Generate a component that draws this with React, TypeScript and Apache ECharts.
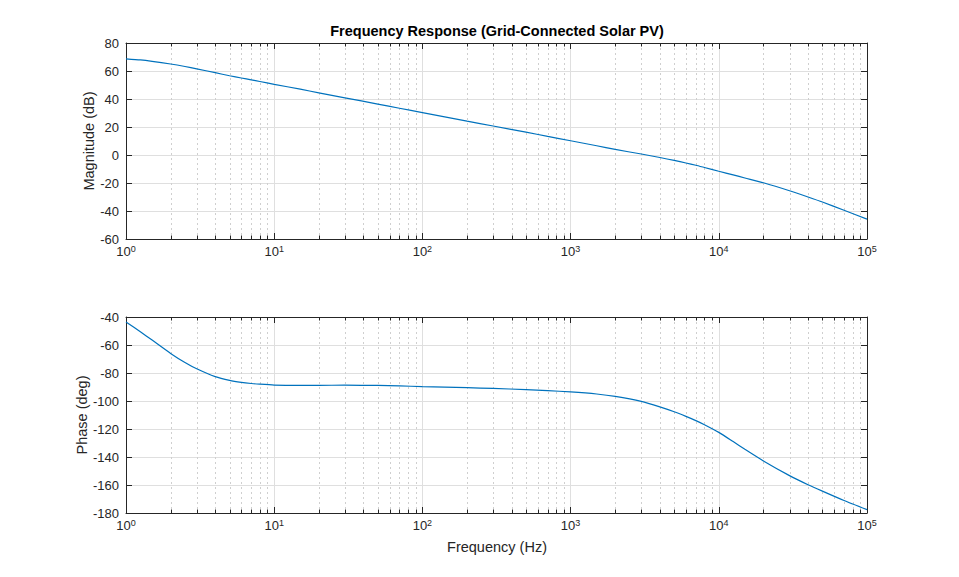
import React, { useEffect, useRef } from "react";
import * as echarts from "echarts";

// Frequency samples (Hz)
const FREQ = [1, 1.25, 1.5, 2, 2.5, 3, 4, 5, 6, 7, 8, 10, 15, 20, 30, 50, 70, 100, 200, 300, 500, 700, 1000, 1500, 2000, 3000, 4000, 5000, 6000, 7000, 8000, 10000, 12500, 15000, 20000, 30000, 40000, 50000, 70000, 100000];
// Magnitude (dB)
const MAG = [68.7, 67.9, 66.9, 65.0, 63.2, 61.5, 58.8, 56.6, 55.0, 53.7, 52.5, 50.5, 47.0, 44.4, 40.8, 36.4, 33.4, 30.3, 24.2, 20.7, 16.3, 13.3, 10.2, 6.6, 4.0, 0.7, -1.8, -3.9, -5.7, -7.3, -8.9, -11.6, -14.2, -16.4, -19.8, -25.5, -30.0, -33.6, -39.5, -45.8];
// Phase (deg)
const PHASE = [-43.5, -50.5, -56.5, -66.0, -72.5, -77.0, -82.6, -85.3, -86.7, -87.5, -88.0, -88.6, -88.8, -88.8, -88.7, -88.9, -89.2, -89.7, -90.5, -91.0, -91.9, -92.6, -93.5, -95.0, -96.7, -100.3, -104.2, -107.7, -111.0, -114.0, -116.9, -122.4, -129.0, -134.5, -142.8, -153.3, -159.8, -164.4, -171.1, -177.6];

const X_MIN = 1;
const X_MAX = 100000;
const MAG_MIN = -60;
const MAG_MAX = 80;
const PHASE_MIN = -180;
const PHASE_MAX = -40;
const Y_STEP = 20;
const DECADES = [1, 10, 100, 1000, 10000];
const MINOR_MULT = [2, 3, 4, 5, 6, 7, 8, 9];

const TITLE = "Frequency Response (Grid-Connected Solar PV)";
const MAG_LABEL = "Magnitude (dB)";
const PHASE_LABEL = "Phase (deg)";
const X_LABEL = "Frequency (Hz)";

const FONT = "'Liberation Sans', Arial, Helvetica, sans-serif";
const AXIS_COLOR = "#262626";
const GRID_COLOR = "#dfdfdf";
const MINOR_COLOR = "#cfcfcf";
const LINE_COLOR = "#0072BD";

export default function App() {
  const ref = useRef<HTMLDivElement>(null);

  useEffect(() => {
    if (!ref.current) return;
    const chart = echarts.init(ref.current, undefined, { renderer: "svg" });

    const minorFreqs: number[] = [];
    DECADES.forEach((d) => MINOR_MULT.forEach((m) => minorFreqs.push(m * d)));

    const grids = [
      { left: 126, top: 43, width: 741, height: 196 },
      { left: 126, top: 317, width: 741, height: 196 },
    ];

    const xLabel = {
      show: true,
      margin: 5,
      fontFamily: FONT,
      color: AXIS_COLOR,
      formatter: (v: number) => `{b|10}{s|${Math.round(Math.log10(v))}}`,
      rich: {
        b: { fontSize: 13, fontFamily: FONT, color: AXIS_COLOR },
        s: { fontSize: 9, fontFamily: FONT, color: AXIS_COLOR, padding: [0, 0, 6, 0] },
      },
    };

    const makeX = (gi: number, top: boolean) => ({
      type: "log",
      logBase: 10,
      gridIndex: gi,
      min: X_MIN,
      max: X_MAX,
      position: top ? "top" : "bottom",
      axisLine: { show: true, onZero: false, lineStyle: { color: AXIS_COLOR, width: 1 } },
      axisTick: { show: true, inside: true, length: 6, lineStyle: { color: AXIS_COLOR } },
      axisLabel: top ? { show: false } : xLabel,
      splitLine: top ? { show: false } : { show: true, lineStyle: { color: GRID_COLOR, width: 1 } },
      minorTick: { show: false },
    });

    const makeY = (gi: number, right: boolean, min: number, max: number) => ({
      type: "value",
      gridIndex: gi,
      min,
      max,
      interval: Y_STEP,
      position: right ? "right" : "left",
      axisLine: { show: true, onZero: false, lineStyle: { color: AXIS_COLOR, width: 1 } },
      axisTick: { show: true, inside: true, length: 6, lineStyle: { color: AXIS_COLOR } },
      axisLabel: right
        ? { show: false }
        : { show: true, margin: 7, fontSize: 13, fontFamily: FONT, color: AXIS_COLOR },
      splitLine: right ? { show: false } : { show: true, lineStyle: { color: GRID_COLOR, width: 1 } },
    });

    const minorSeries = (gi: number, yMin: number) => ({
      type: "custom",
      xAxisIndex: gi * 2,
      yAxisIndex: gi * 2,
      silent: true,
      z: 1,
      clip: false,
      data: minorFreqs.map((f) => [f, yMin]),
      renderItem: (params: any, api: any) => {
        const cs = params.coordSys;
        const p = api.coord([api.value(0), yMin]);
        const x = Math.round(p[0]) + 0.5;
        const y0 = cs.y;
        const y1 = cs.y + cs.height;
        return {
          type: "group",
          children: [
            {
              type: "line",
              shape: { x1: x, y1: y0, x2: x, y2: y1 },
              style: { stroke: MINOR_COLOR, lineWidth: 1, lineDash: [2, 3] },
            },
            {
              type: "line",
              shape: { x1: x, y1: y1, x2: x, y2: y1 - 3.5 },
              style: { stroke: AXIS_COLOR, lineWidth: 1 },
            },
            {
              type: "line",
              shape: { x1: x, y1: y0, x2: x, y2: y0 + 3.5 },
              style: { stroke: AXIS_COLOR, lineWidth: 1 },
            },
          ],
        };
      },
    });

    const axisText = (text: string, x: number, y: number, rotate: boolean, bold = false) => ({
      type: "text",
      x,
      y,
      rotation: rotate ? Math.PI / 2 : 0,
      style: {
        text,
        font: `${bold ? "bold " : ""}14.5px ${FONT}`,
        fill: bold ? "#000000" : AXIS_COLOR,
        textAlign: "center",
        textVerticalAlign: "middle",
      },
    });

    const curve = (xi: number, values: number[]) => ({
      type: "line",
      xAxisIndex: xi,
      yAxisIndex: xi,
      data: FREQ.map((f, i) => [f, values[i]]),
      showSymbol: false,
      smooth: 0.2,
      z: 5,
      lineStyle: { color: LINE_COLOR, width: 1.2 },
    });

    chart.setOption({
      animation: false,
      backgroundColor: "#ffffff",
      textStyle: { fontFamily: FONT },
      grid: grids,
      xAxis: [makeX(0, false), makeX(0, true), makeX(1, false), makeX(1, true)],
      yAxis: [
        makeY(0, false, MAG_MIN, MAG_MAX),
        makeY(0, true, MAG_MIN, MAG_MAX),
        makeY(1, false, PHASE_MIN, PHASE_MAX),
        makeY(1, true, PHASE_MIN, PHASE_MAX),
      ],
      graphic: [
        axisText(TITLE, 497, 31, false, true),
        axisText(MAG_LABEL, 89, 141, true),
        axisText(PHASE_LABEL, 82, 415, true),
        axisText(X_LABEL, 497, 547, false),
      ],
      series: [
        minorSeries(0, MAG_MIN),
        minorSeries(1, PHASE_MIN),
        curve(0, MAG),
        curve(2, PHASE),
      ],
    });

    return () => chart.dispose();
  }, []);

  return (
    <div
      ref={ref}
      style={{ position: "fixed", left: 0, top: 0, width: 959, height: 577, background: "#fff" }}
    />
  );
}
